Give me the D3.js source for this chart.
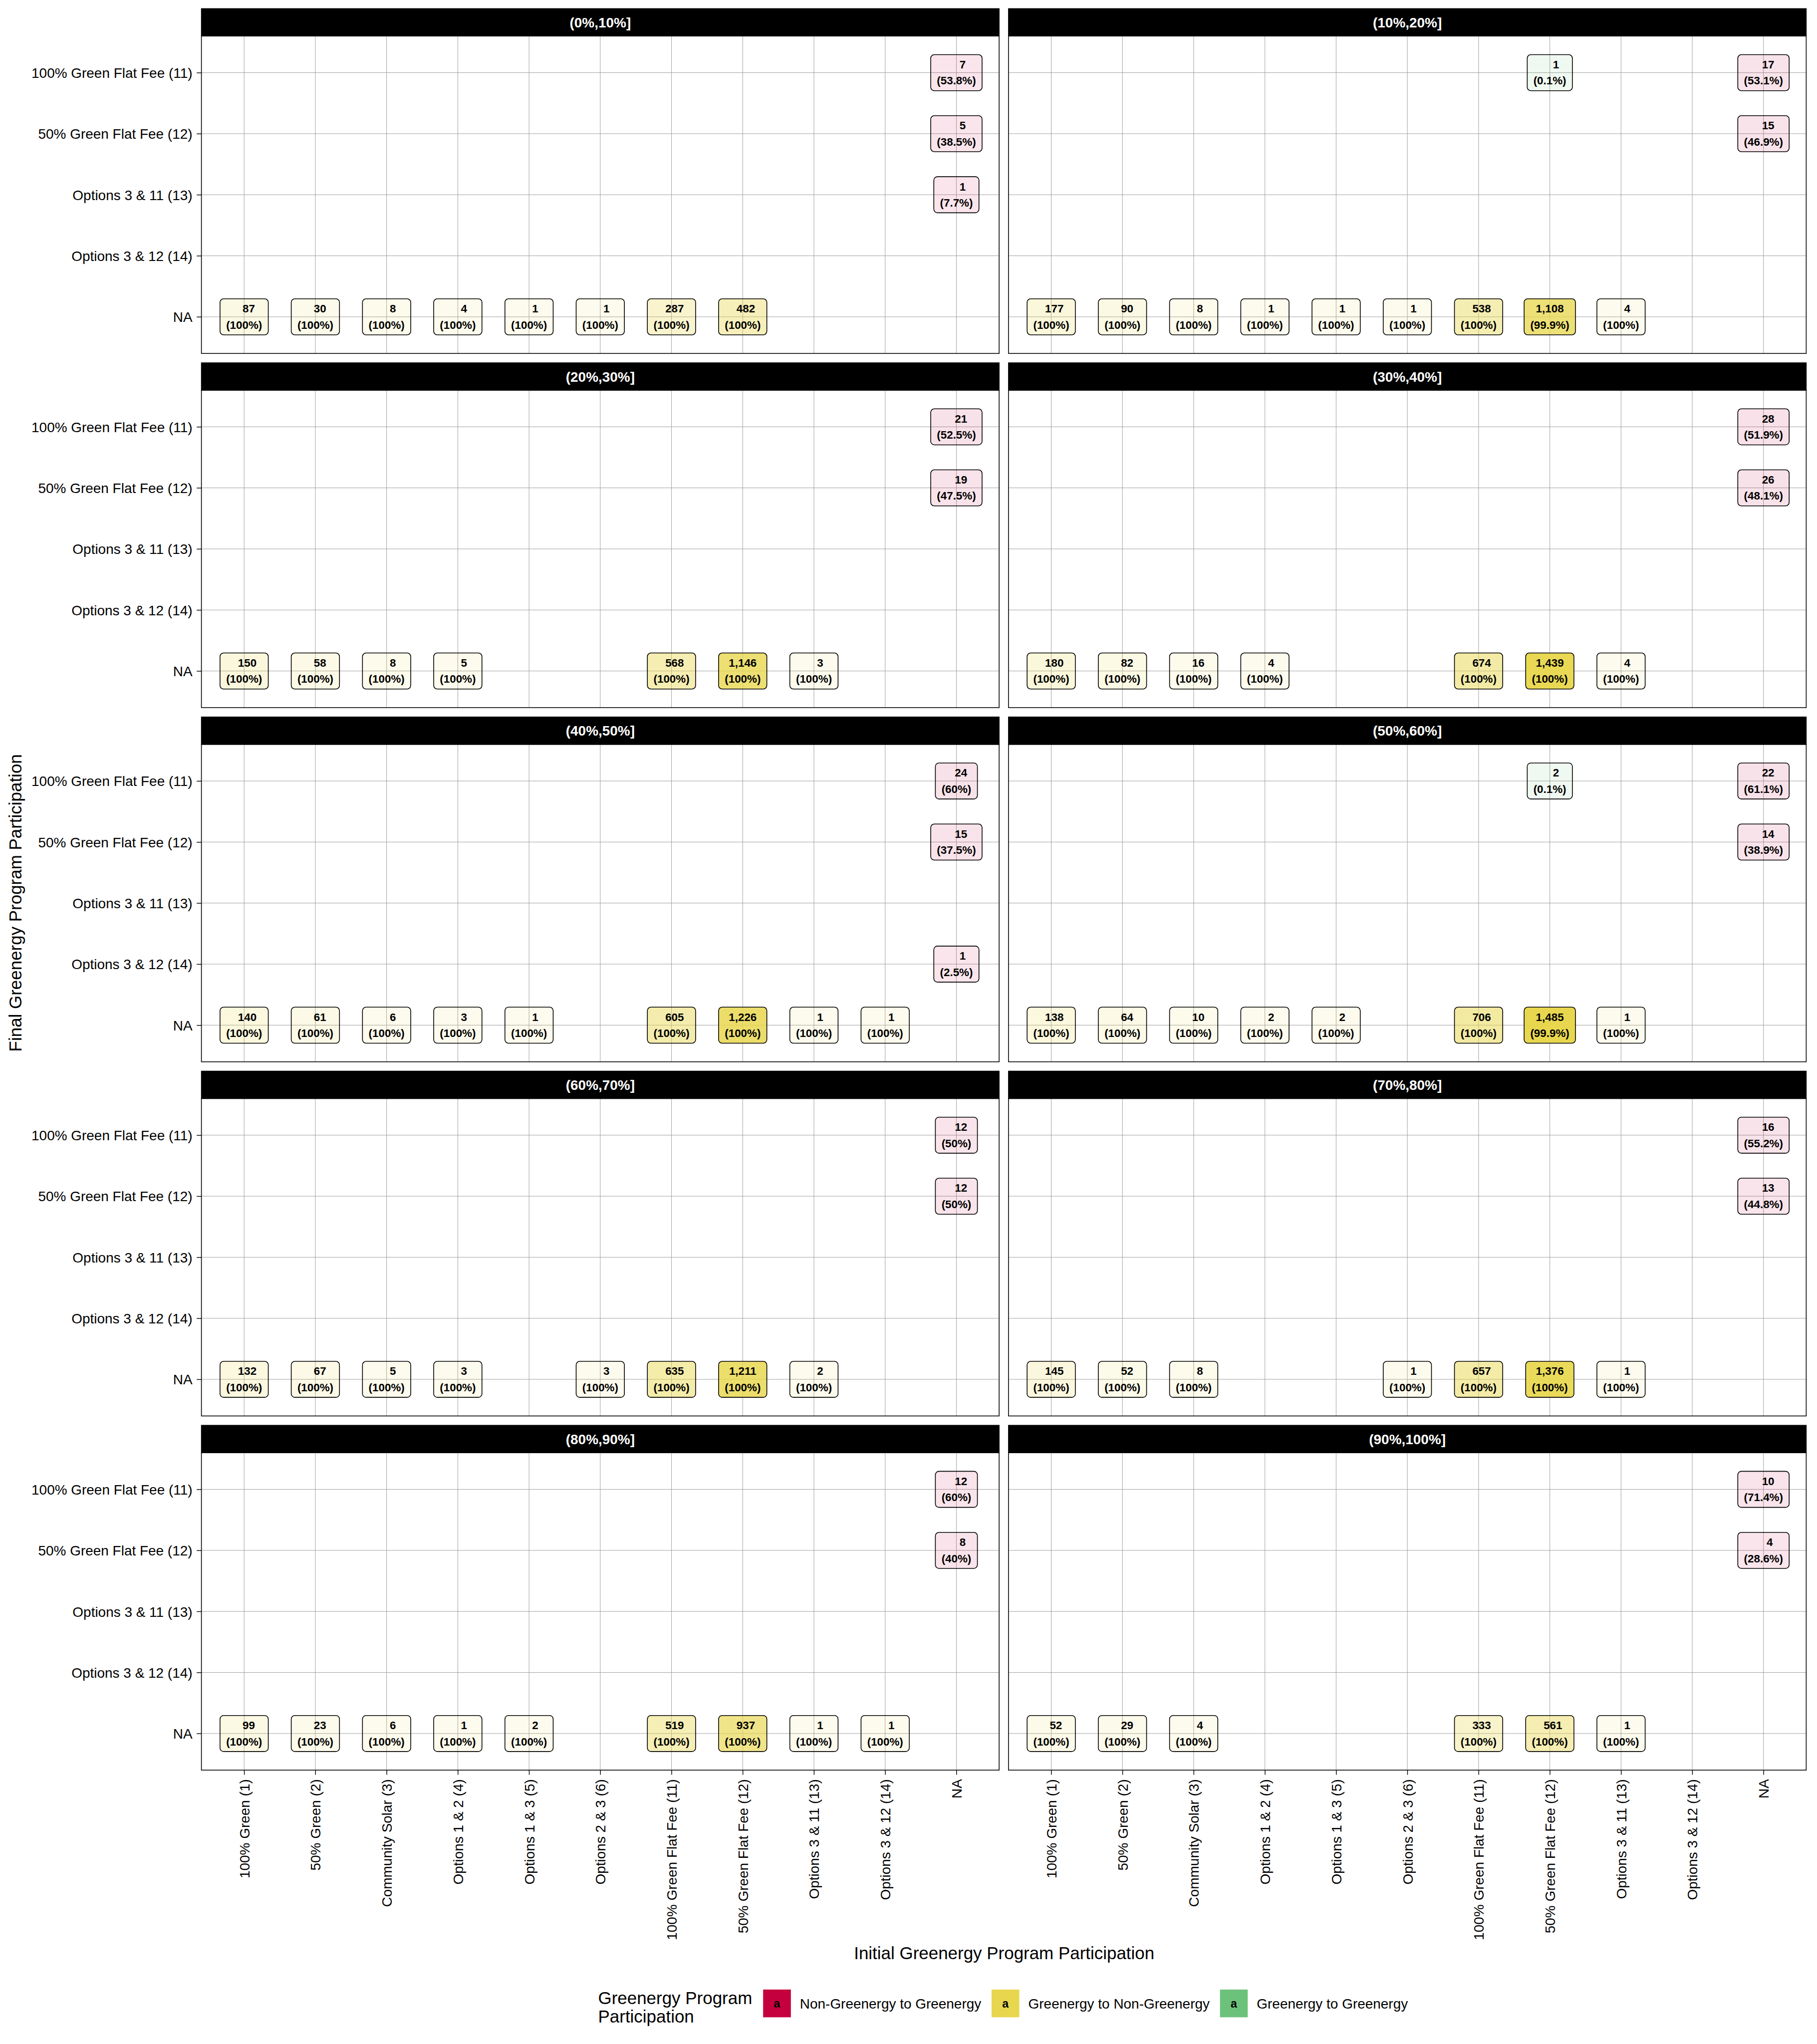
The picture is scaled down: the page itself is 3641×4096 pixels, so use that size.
<!DOCTYPE html>
<html>
<head>
<meta charset="utf-8">
<script src="https://cdn.jsdelivr.net/npm/d3@7"></script>
<style>html,body{margin:0;padding:0;background:#fff}</style>
</head>
<body>
<svg id="chart" width="3641" height="4096"></svg>
<script>
// ---------------- DATA ----------------
const facetLabels = ["(0%,10%]","(10%,20%]","(20%,30%]","(30%,40%]","(40%,50%]",
                     "(50%,60%]","(60%,70%]","(70%,80%]","(80%,90%]","(90%,100%]"];
const initialCats = ["100% Green (1)","50% Green (2)","Community Solar (3)","Options 1 & 2 (4)",
                     "Options 1 & 3 (5)","Options 2 & 3 (6)","100% Green Flat Fee (11)",
                     "50% Green Flat Fee (12)","Options 3 & 11 (13)","Options 3 & 12 (14)","NA"];
const finalCats = ["100% Green Flat Fee (11)","50% Green Flat Fee (12)","Options 3 & 11 (13)",
                   "Options 3 & 12 (14)","NA"];
const groups = ["Non-Greenergy to Greenergy","Greenergy to Non-Greenergy","Greenergy to Greenergy"];
const groupColors = ["#C5003E","#E8D74E","#6CC27A"];

// [initial index, final index, count, percent of initial]
const flows_00_10 = [[0,4,87,100],[1,4,30,100],[2,4,8,100],[3,4,4,100],[4,4,1,100],[5,4,1,100],
  [6,4,287,100],[7,4,482,100],[10,0,7,53.8],[10,1,5,38.5],[10,2,1,7.7]];
const flows_10_20 = [[0,4,177,100],[1,4,90,100],[2,4,8,100],[3,4,1,100],[4,4,1,100],[5,4,1,100],
  [6,4,538,100],[7,4,1108,99.9],[8,4,4,100],[7,0,1,0.1],[10,0,17,53.1],[10,1,15,46.9]];
const flows_20_30 = [[0,4,150,100],[1,4,58,100],[2,4,8,100],[3,4,5,100],[6,4,568,100],
  [7,4,1146,100],[8,4,3,100],[10,0,21,52.5],[10,1,19,47.5]];
const flows_30_40 = [[0,4,180,100],[1,4,82,100],[2,4,16,100],[3,4,4,100],[6,4,674,100],
  [7,4,1439,100],[8,4,4,100],[10,0,28,51.9],[10,1,26,48.1]];
const flows_40_50 = [[0,4,140,100],[1,4,61,100],[2,4,6,100],[3,4,3,100],[4,4,1,100],
  [6,4,605,100],[7,4,1226,100],[8,4,1,100],[9,4,1,100],[10,0,24,60],[10,1,15,37.5],[10,3,1,2.5]];
const flows_50_60 = [[0,4,138,100],[1,4,64,100],[2,4,10,100],[3,4,2,100],[4,4,2,100],
  [6,4,706,100],[7,4,1485,99.9],[8,4,1,100],[7,0,2,0.1],[10,0,22,61.1],[10,1,14,38.9]];
const flows_60_70 = [[0,4,132,100],[1,4,67,100],[2,4,5,100],[3,4,3,100],[5,4,3,100],
  [6,4,635,100],[7,4,1211,100],[8,4,2,100],[10,0,12,50],[10,1,12,50]];
const flows_70_80 = [[0,4,145,100],[1,4,52,100],[2,4,8,100],[5,4,1,100],[6,4,657,100],
  [7,4,1376,100],[8,4,1,100],[10,0,16,55.2],[10,1,13,44.8]];
const flows_80_90 = [[0,4,99,100],[1,4,23,100],[2,4,6,100],[3,4,1,100],[4,4,2,100],
  [6,4,519,100],[7,4,937,100],[8,4,1,100],[9,4,1,100],[10,0,12,60],[10,1,8,40]];
const flows_90_100 = [[0,4,52,100],[1,4,29,100],[2,4,4,100],[6,4,333,100],[7,4,561,100],
  [8,4,1,100],[10,0,10,71.4],[10,1,4,28.6]];
const facetFlows = [flows_00_10,flows_10_20,flows_20_30,flows_30_40,flows_40_50,
                    flows_50_60,flows_60_70,flows_70_80,flows_80_90,flows_90_100];

const xTitle = "Initial Greenergy Program Participation";
const yTitle = "Final Greenergy Program Participation";
const legendTitle = ["Greenergy Program","Participation"];

// ---------------- DRAW ----------------
const S = 0.722;                 // drawing at 0.722 of the 5039x5669 reference
const FONT = "'Liberation Sans', Arial, Helvetica, sans-serif";
const svg = d3.select("#chart");
const root = svg.append("g").attr("transform", `scale(${S})`);
root.append("rect").attr("width", 5039).attr("height", 5669).attr("fill", "#fff");

const allN = facetFlows.flat().map(d => d[2]);
const alpha = d3.scaleLinear().domain(d3.extent(allN)).range([0.1, 1]);
const color = d3.scaleOrdinal().domain(groups).range(groupColors);
const fmtN = d3.format(",");
const fmtPct = p => "(" + (Number.isInteger(p) ? String(p) : p.toFixed(1)) + "%)";
const maxLen = d3.max(allN, n => fmtN(n).length);
function groupOf(d) {
  if (initialCats[d[0]] === "NA") return groups[0];
  if (finalCats[d[1]] === "NA") return groups[1];
  return groups[2];
}

const LBL_FS = 31, AX_FS = 38.7, TITLE_FS = 48.4;
const PANEL_W = 2214, STRIP_H = 76, BODY_H = 881, ROW_STEP = 983;

facetLabels.forEach((lab, i) => {
  const r = Math.floor(i / 2), c = i % 2;
  const x0 = c === 0 ? 559 : 2799, x1 = x0 + PANEL_W;
  const sTop = 24 + ROW_STEP * r, bTop = sTop + STRIP_H, bBot = bTop + BODY_H;
  const x = d3.scalePoint().domain(initialCats).range([x0, x1]).padding(0.6);
  const y = d3.scalePoint().domain(finalCats).range([bTop, bBot]).padding(0.6);
  const g = root.append("g").attr("class", "panel");

  g.append("rect").attr("x", x0).attr("y", bTop).attr("width", PANEL_W).attr("height", BODY_H)
    .attr("fill", "#fff");
  // grid
  g.append("g").selectAll("line").data(initialCats).join("line")
    .attr("x1", d => x(d)).attr("x2", d => x(d)).attr("y1", bTop).attr("y2", bBot)
    .attr("stroke", "#9a9a9a").attr("stroke-width", 1.3);
  g.append("g").selectAll("line").data(finalCats).join("line")
    .attr("y1", d => y(d)).attr("y2", d => y(d)).attr("x1", x0).attr("x2", x1)
    .attr("stroke", "#9a9a9a").attr("stroke-width", 1.3);

  // labels
  const lg = g.append("g").selectAll("g").data(facetFlows[i]).join("g")
    .attr("transform", d => `translate(${x(initialCats[d[0]])},${y(finalCats[d[1]])})`);
  lg.each(function(d) {
    const el = d3.select(this);
    const rect = el.append("rect");
    const s = fmtN(d[2]);
    const spaceW = 0.278 * LBL_FS * (maxLen - s.length);
    const t1 = el.append("text").attr("x", spaceW / 2).attr("y", -12)
      .attr("text-anchor", "middle").attr("font-family", FONT).attr("font-weight", "bold")
      .attr("font-size", LBL_FS).attr("fill", "#000").text(s);
    const t2 = el.append("text").attr("x", 0).attr("y", 33)
      .attr("text-anchor", "middle").attr("font-family", FONT).attr("font-weight", "bold")
      .attr("font-size", LBL_FS).attr("fill", "#000").text(fmtPct(d[3]));
    const w = Math.max(t1.node().getComputedTextLength() + spaceW, t2.node().getComputedTextLength()) + 34;
    rect.attr("x", -w / 2).attr("y", -50).attr("width", w).attr("height", 100)
      .attr("rx", 10).attr("ry", 10)
      .attr("fill", color(groupOf(d))).attr("fill-opacity", alpha(d[2]))
      .attr("stroke", "#000").attr("stroke-width", 2.2);
  });

  // border
  g.append("rect").attr("x", x0).attr("y", bTop).attr("width", PANEL_W).attr("height", BODY_H)
    .attr("fill", "none").attr("stroke", "#000").attr("stroke-width", 2.2);
  // strip
  g.append("rect").attr("x", x0).attr("y", sTop).attr("width", PANEL_W).attr("height", STRIP_H)
    .attr("fill", "#000").attr("stroke", "#000").attr("stroke-width", 2.2);
  g.append("text").attr("x", (x0 + x1) / 2).attr("y", sTop + 52).attr("text-anchor", "middle")
    .attr("font-family", FONT).attr("font-weight", "bold").attr("font-size", AX_FS)
    .attr("fill", "#fff").text(lab);

  // y axis on left column
  if (c === 0) {
    const ay = g.append("g").attr("transform", `translate(${x0},0)`)
      .call(d3.axisLeft(y).tickSize(13).tickPadding(12));
    ay.select(".domain").remove();
    ay.attr("font-size", AX_FS).attr("font-family", FONT);
    ay.selectAll("text").attr("fill", "#000").attr("dy", "0.358em");
    ay.selectAll("line").attr("stroke", "#000").attr("stroke-width", 2);
  }
  // x axis on bottom row
  if (r === 4) {
    const ax = g.append("g").attr("transform", `translate(0,${bBot})`)
      .call(d3.axisBottom(x).tickSize(13).tickPadding(12));
    ax.select(".domain").remove();
    ax.attr("font-size", AX_FS).attr("font-family", FONT);
    ax.selectAll("text").attr("fill", "#000").attr("transform", "rotate(-90)")
      .attr("text-anchor", "end").attr("x", -25).attr("y", 0).attr("dy", "0.358em");
    ax.selectAll("line").attr("stroke", "#000").attr("stroke-width", 2);
  }
});

// axis titles
root.append("text").attr("x", 2787).attr("y", 5438).attr("text-anchor", "middle")
  .attr("font-family", FONT).attr("font-size", TITLE_FS).attr("fill", "#000").text(xTitle);
root.append("text").attr("transform", "translate(60,2506) rotate(-90)").attr("text-anchor", "middle")
  .attr("font-family", FONT).attr("font-size", TITLE_FS).attr("fill", "#000").text(yTitle);

// legend
const leg = root.append("g");
leg.append("text").attr("font-family", FONT).attr("font-size", TITLE_FS).attr("fill", "#000")
  .selectAll("tspan").data(legendTitle).join("tspan")
  .attr("x", 1660).attr("y", (d, k) => 5562 + 51 * k).text(d => d);
const items = leg.selectAll("g.item").data(groups).join("g")
  .attr("transform", (d, k) => `translate(${2118 + 634 * k},5522)`);
items.append("rect").attr("width", 77).attr("height", 77).attr("fill", d => color(d));
items.append("text").attr("x", 38.5).attr("y", 50).attr("text-anchor", "middle")
  .attr("font-family", FONT).attr("font-weight", "bold").attr("font-size", 32).attr("fill", "#000")
  .text("a");
items.append("text").attr("x", 102).attr("y", 53).attr("font-family", FONT)
  .attr("font-size", AX_FS).attr("fill", "#000").text(d => d);
</script>
</body>
</html>
